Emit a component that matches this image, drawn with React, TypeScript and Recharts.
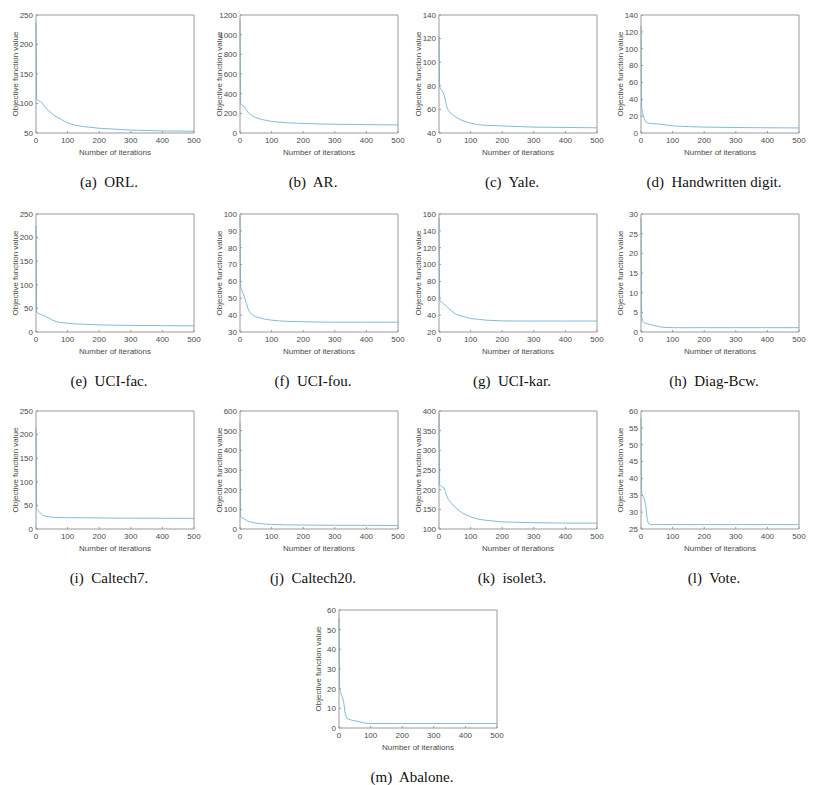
import { LineChart, Line, XAxis, YAxis, Label } from "recharts";

// iteration points sampled for every dataset
const ITERS = [0, 2, 5, 10, 15, 20, 25, 30, 40, 50, 60, 70, 80, 100, 125, 150, 200, 250, 300, 400, 500];
const X_TICKS = [0, 100, 200, 300, 400, 500];

const orl = [237, 107, 106, 104, 103, 101, 97, 93, 88, 83, 79, 76, 73, 67, 63, 61, 58, 56.5, 55, 53.5, 53];
const ar = [1150, 290, 285, 278, 262, 235, 212, 195, 172, 157, 146, 137, 130, 118, 110, 104, 97, 92, 89, 85, 82];
const yale = [122, 79, 77, 76, 73, 68, 62, 59, 56, 54, 52.5, 51, 50, 48.3, 47, 46.5, 46, 45.5, 45, 44.7, 44.4];
const digit = [127, 30, 24, 17, 13, 12, 11.5, 11.3, 11, 10.8, 10.5, 10, 9.5, 8.5, 8, 7.6, 7, 6.8, 6.5, 6.2, 6];
const uciFac = [225, 42, 40, 39, 37, 36, 35, 33, 30, 26, 23, 21, 20, 18.5, 17, 16.5, 15, 14.5, 14, 13.5, 13];
const uciFou = [99, 57, 55, 53, 50, 47, 44, 42, 40, 39, 38.5, 38, 37.6, 37, 36.6, 36.3, 36.1, 35.9, 35.8, 35.8, 35.8];
const uciKar = [155, 58, 56, 55, 53, 52, 50, 48, 45, 42, 40, 39, 38, 36, 35, 34, 33.2, 33, 33, 33, 33];
const diagBcw = [29, 4, 2.7, 2.3, 2.2, 2.1, 2, 1.9, 1.7, 1.5, 1.3, 1.2, 1.15, 1.1, 1.1, 1.1, 1.1, 1.1, 1.1, 1.1, 1.1];
const caltech7 = [215, 42, 40, 37, 33, 30, 28, 27, 26, 25, 24.5, 24.3, 24.2, 24, 24, 23.8, 23.5, 23, 23, 22.8, 22.5];
const caltech20 = [540, 60, 57, 55, 50, 45, 40, 37, 33, 30, 28, 27, 25, 23, 22, 21, 20, 19.5, 19, 18.5, 18];
const isolet3 = [395, 212, 210, 208, 205, 195, 183, 175, 165, 156, 149, 143, 138, 131, 125, 122, 118, 117, 116, 115, 115];
const vote = [58, 35.5, 35, 34, 32, 27.5, 26.5, 26.3, 26.3, 26.3, 26.3, 26.3, 26.3, 26.3, 26.3, 26.3, 26.3, 26.3, 26.3, 26.3, 26.3];
const abalone = [56, 20, 18, 16, 13, 7, 5, 4.5, 4, 3.7, 3.3, 3, 2.5, 2.3, 2.3, 2.3, 2.3, 2.3, 2.3, 2.3, 2.3];

const range = (a: number, b: number, s: number) => {
  const out: number[] = [];
  for (let v = a; v <= b; v += s) out.push(v);
  return out;
};

// caption, values, y ticks, plot left, plot top
const PANELS = [
  { caption: "(a)  ORL.", values: orl, yTicks: range(50, 250, 50), left: 36, top: 15 },
  { caption: "(b)  AR.", values: ar, yTicks: range(0, 1200, 200), left: 240, top: 15 },
  { caption: "(c)  Yale.", values: yale, yTicks: range(40, 140, 20), left: 439, top: 15 },
  { caption: "(d)  Handwritten digit.", values: digit, yTicks: range(0, 140, 20), left: 641, top: 15 },
  { caption: "(e)  UCI-fac.", values: uciFac, yTicks: range(0, 250, 50), left: 36, top: 214 },
  { caption: "(f)  UCI-fou.", values: uciFou, yTicks: range(30, 100, 10), left: 240, top: 214 },
  { caption: "(g)  UCI-kar.", values: uciKar, yTicks: range(20, 160, 20), left: 439, top: 214 },
  { caption: "(h)  Diag-Bcw.", values: diagBcw, yTicks: range(0, 30, 5), left: 641, top: 214 },
  { caption: "(i)  Caltech7.", values: caltech7, yTicks: range(0, 250, 50), left: 36, top: 411 },
  { caption: "(j)  Caltech20.", values: caltech20, yTicks: range(0, 600, 100), left: 240, top: 411 },
  { caption: "(k)  isolet3.", values: isolet3, yTicks: range(100, 400, 50), left: 439, top: 411 },
  { caption: "(l)  Vote.", values: vote, yTicks: range(25, 60, 5), left: 641, top: 411 },
  { caption: "(m)  Abalone.", values: abalone, yTicks: range(0, 60, 10), left: 339, top: 610 },
];

const PW = 158;
const PH = 118;
const LINE = "#80bcdb";
const AXIS = "#9a9a9a";
const TEXT = "#4a4a4a";
const SANS = "'Liberation Sans', Arial, sans-serif";
const tickStyle = { fontSize: 8, fill: TEXT, fontFamily: SANS };

const YTitle = ({ viewBox }: any) => {
  const cx = viewBox.x + 19;
  const cy = viewBox.y + viewBox.height / 2;
  return (
    <text x={cx} y={cy} transform={`rotate(-90 ${cx} ${cy})`} textAnchor="middle" dominantBaseline="central"
      fontSize={8} fill={TEXT} fontFamily={SANS}>
      Objective function value
    </text>
  );
};

const XTitle = ({ viewBox }: any) => (
  <text x={viewBox.x + viewBox.width / 2} y={viewBox.y + 19} textAnchor="middle" dominantBaseline="central"
    fontSize={8} fill={TEXT} fontFamily={SANS}>
    Number of iterations
  </text>
);

const Panel = ({ caption, values, yTicks, left, top }: (typeof PANELS)[number]) => {
  const data = ITERS.map((it, i) => ({ it, v: values[i] }));
  const domain = [yTicks[0], yTicks[yTicks.length - 1]];
  return (
    <>
      <div style={{ position: "absolute", left: left - 40, top: top - 10 }}>
        <LineChart width={PW + 50} height={PH + 40} data={data} margin={{ top: 9, right: 9, left: 0, bottom: 0 }}>
          <XAxis dataKey="it" type="number" domain={[0, 500]} ticks={X_TICKS} height={30}
            stroke={AXIS} tickSize={-2} tickMargin={6} tick={tickStyle} interval={0}>
            <Label content={<XTitle />} />
          </XAxis>
          <XAxis xAxisId="top" orientation="top" dataKey="it" type="number" domain={[0, 500]} ticks={X_TICKS}
            height={1} stroke={AXIS} tickSize={-2} tick={false} interval={0} />
          <YAxis type="number" domain={domain} ticks={yTicks} width={40} stroke={AXIS} tickSize={-2}
            tickMargin={5} tick={tickStyle} interval={0} allowDataOverflow>
            <Label content={<YTitle />} />
          </YAxis>
          <YAxis yAxisId="right" orientation="right" type="number" domain={domain} ticks={yTicks}
            width={1} stroke={AXIS} tickSize={-2} tick={false} interval={0} />
          <Line dataKey="v" type="linear" stroke={LINE} strokeWidth={1} dot={false} isAnimationActive={false} />
          <Line dataKey="v" xAxisId="top" yAxisId="right" stroke="none" dot={false} legendType="none"
            isAnimationActive={false} />
        </LineChart>
      </div>
      <div style={{ position: "absolute", left: left + PW / 2 - 6 - 100, width: 200, top: top + PH + 40,
        textAlign: "center", whiteSpace: "pre", fontFamily: "'Liberation Serif', 'Times New Roman', serif",
        fontSize: 15, color: "#111", lineHeight: "18px" }}>
        {caption}
      </div>
    </>
  );
};

export default function App() {
  return (
    <div style={{ position: "absolute", left: 0, top: 0, width: 822, height: 785, background: "#fff" }}>
      {PANELS.map((p) => (
        <Panel key={p.caption} {...p} />
      ))}
    </div>
  );
}
